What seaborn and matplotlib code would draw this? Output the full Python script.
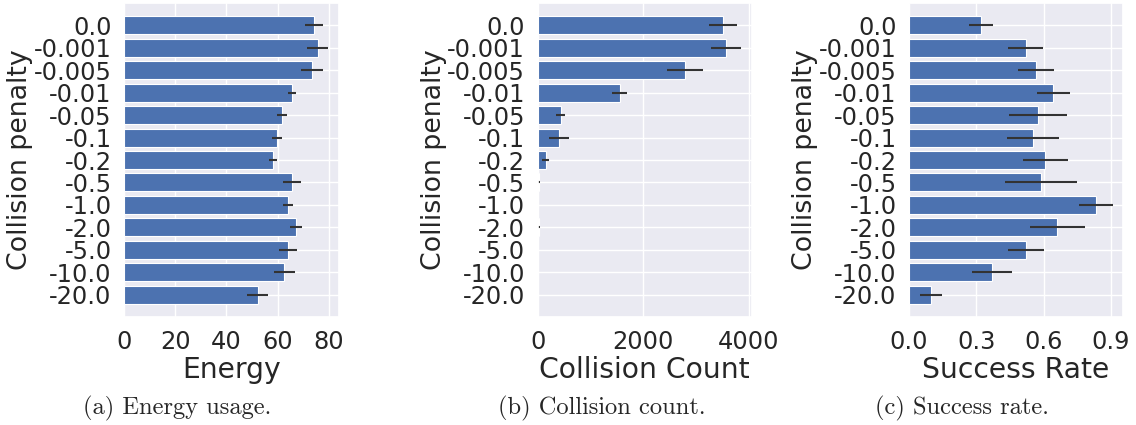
import matplotlib
matplotlib.use("Agg")
import matplotlib.pyplot as plt
import seaborn as sns
import numpy as np
import pandas as pd

penalties = ["0.0", "-0.001", "-0.005", "-0.01", "-0.05", "-0.1", "-0.2",
             "-0.5", "-1.0", "-2.0", "-5.0", "-10.0", "-20.0"]

energy_mean = [74.1, 75.6, 73.6, 65.6, 61.7, 59.8, 58.3, 65.6, 64.1, 67.1, 64.1, 62.6, 52.2]
energy_err = [3.6, 4.2, 4.3, 1.6, 1.8, 2.0, 1.5, 3.4, 1.9, 2.3, 3.6, 4.0, 4.0]

collision_mean = [3510, 3566, 2790, 1553, 441, 403, 151, 25, 4, 25, 3, 6, 3]
collision_err = [270, 290, 350, 145, 85, 185, 65, 10, 3, 12, 2, 4, 2]

success_mean = [0.319, 0.519, 0.567, 0.642, 0.575, 0.553, 0.607, 0.588, 0.832, 0.660,
                0.521, 0.368, 0.098]
success_err = [0.054, 0.076, 0.080, 0.073, 0.129, 0.117, 0.100, 0.162, 0.075, 0.122,
               0.082, 0.089, 0.051]

energy_ticks = [0, 20, 40, 60, 80]
collision_ticks = [0, 2000, 4000]
success_ticks = [0.0, 0.3, 0.6, 0.9]
success_ticklabels = ["0.0", "0.3", "0.6", "0.9"]

captions = ["(a) Energy usage.", "(b) Collision count.", "(c) Success rate."]

sns.set_theme(style="darkgrid")
plt.rcParams["font.family"] = ["DejaVu Sans"]

fig = plt.figure(figsize=(11.36, 4.25), dpi=100)

panels = [
    ("Energy", energy_mean, energy_err, [0.1092, 0.2541, 0.1893, 0.7388], (0, 84),
     energy_ticks, None),
    ("Collision Count", collision_mean, collision_err, [0.4733, 0.2541, 0.1884, 0.7388],
     (0, 4053), collision_ticks, None),
    ("Success Rate", success_mean, success_err, [0.8002, 0.2541, 0.1881, 0.7388],
     (0, 0.952), success_ticks, success_ticklabels),
]

for name, mean, err, rect, xlim, xticks, xlabels in panels:
    ax = fig.add_axes(rect)
    df = pd.DataFrame({"penalty": penalties, name: mean})
    sns.barplot(data=df, x=name, y="penalty", orient="h", color="#4c72b0",
                saturation=1, errorbar=None, width=0.8, edgecolor="white",
                linewidth=0.8, ax=ax)
    ax.errorbar(mean, np.arange(len(penalties)), xerr=err, fmt="none",
                ecolor="0.2", elinewidth=1.5)
    ax.yaxis.grid(True)
    ax.set_ylim(len(penalties), -1)
    ax.set_xlim(*xlim)
    ax.set_xticks(xticks)
    if xlabels is not None:
        ax.set_xticklabels(xlabels)
    ax.set_xlabel(name, fontsize=20.3, labelpad=2)
    ax.set_ylabel("Collision penalty", fontsize=19.3, labelpad=0.5)
    ax.tick_params(axis="both", labelsize=17.4, pad=3)

for xc, cap in zip([0.1563, 0.530, 0.847], captions):
    fig.text(xc, 0.04, cap, ha="center", va="center", fontfamily="cmr10", fontsize=17.6)

fig.savefig("out.png", dpi=100)
